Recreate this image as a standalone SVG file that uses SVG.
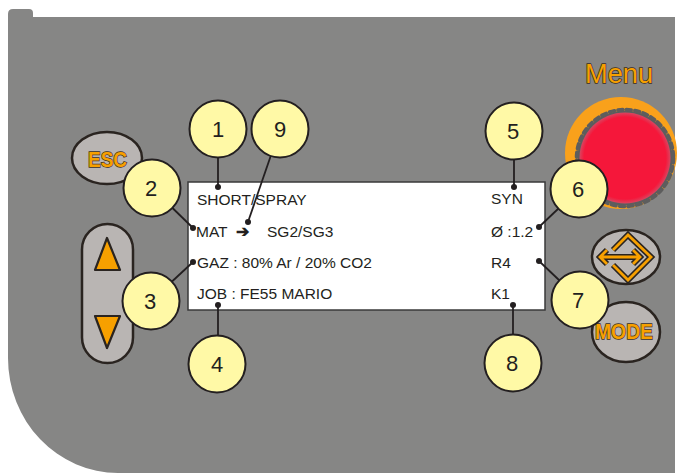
<svg xmlns="http://www.w3.org/2000/svg" width="683" height="473" viewBox="0 0 683 473">
  <style>
    .btn { fill: #b9b5b3; stroke: #2a2420; stroke-width: 2.5; }
    .glyph { fill: #f7a000; stroke: #2a2420; stroke-width: 2.2; stroke-linejoin: round; }
    .label { font-family: "Liberation Sans", Arial, sans-serif; fill: #f7a000; stroke: #3a2e22; stroke-width: 1.4; paint-order: stroke; }
    .lcd { font-family: "Liberation Sans", Arial, sans-serif; font-size: 15.5px; fill: #231f20; }
    .callout circle { fill: #fff9a6; stroke: #231f20; stroke-width: 2; }
    .callout text { font-family: "Liberation Sans", Arial, sans-serif; font-size: 22px; fill: #231f20; text-anchor: middle; }
    .lead { stroke: #231f20; stroke-width: 1.8; fill: none; }
    .dot { fill: #231f20; }
  </style>
  <defs>
    <radialGradient id="knobRed" cx="50%" cy="50%" r="50%">
      <stop offset="0.9" stop-color="#f5173a"/>
      <stop offset="1" stop-color="#d94560"/>
    </radialGradient>
  </defs>

  <rect width="683" height="473" fill="#ffffff"/>

  <!-- front panel -->
  <path id="panel" d="M8,14 Q8,9 13,9 L29,9 Q33,9 33,13 L33,17 L675,17 L675,473 L118,473 A110,115 0 0 1 8,358 Z" fill="#868685"/>

  <!-- ESC button -->
  <g id="btn-esc">
    <ellipse class="btn" cx="107" cy="158" rx="35" ry="26"/>
    <text class="label" x="88" y="167" font-size="22" style="font-weight:bold" textLength="39" lengthAdjust="spacingAndGlyphs">ESC</text>
  </g>

  <!-- up / down buttons -->
  <g id="btn-updown">
    <rect class="btn" x="82" y="224" width="51" height="139" rx="25.5"/>
    <polygon class="glyph" points="107,238 120,270 95,270"/>
    <polygon class="glyph" points="95,316 120,316 107,348"/>
  </g>

  <!-- menu knob -->
  <g id="knob-menu">
    <text class="label" x="585" y="83" font-size="28" textLength="68" lengthAdjust="spacingAndGlyphs">Menu</text>
    <circle cx="621" cy="153" r="56" fill="#f9a11b"/>
    <circle cx="625" cy="158" r="47.5" fill="#5d5d5d"/>
    <circle cx="625" cy="158" r="48.5" fill="none" stroke="#5d5d5d" stroke-width="3.5" stroke-dasharray="5 3.5" stroke-linecap="round"/>
    <circle cx="625" cy="158" r="45.5" fill="url(#knobRed)"/>
  </g>

  <!-- enter / navigation button -->
  <g id="btn-nav">
    <ellipse class="btn" cx="626" cy="257" rx="34" ry="27"/>
    <g fill="none" stroke-linejoin="miter" stroke-linecap="butt">
      <g stroke="#2a2420" stroke-width="6">
        <path d="M613,250 L628,235 L651,257 L628,280 L613,265"/>
        <path d="M600,257 L640,257 M607,250 L600,257 L607,264 M633,250 L640,257 L633,264"/>
      </g>
      <g stroke="#f7a000" stroke-width="2.8">
        <path d="M613,250 L628,235 L651,257 L628,280 L613,265"/>
        <path d="M600,257 L640,257 M607,250 L600,257 L607,264 M633,250 L640,257 L633,264"/>
      </g>
    </g>
  </g>

  <!-- MODE button -->
  <g id="btn-mode">
    <ellipse class="btn" cx="626" cy="332" rx="34" ry="30"/>
    <text class="label" x="595" y="339" font-size="22" style="font-weight:bold" textLength="58" lengthAdjust="spacingAndGlyphs">MODE</text>
  </g>

  <!-- display -->
  <g id="display">
    <rect x="188" y="182" width="357" height="128" fill="#ffffff" stroke="#3a3a3a" stroke-width="1.5"/>
    <text class="lcd" x="197" y="205">SHORT/SPRAY</text>
    <text class="lcd" x="196" y="237">MAT</text>
    <text class="lcd" x="236" y="237" style="font-weight:bold">➔</text>
    <text class="lcd" x="267" y="237">SG2/SG3</text>
    <text class="lcd" x="197" y="268">GAZ : 80% Ar / 20% CO2</text>
    <text class="lcd" x="197" y="299">JOB : FE55 MARIO</text>
    <text class="lcd" x="491" y="204">SYN</text>
    <text class="lcd" x="491" y="237">Ø :1.2</text>
    <text class="lcd" x="491" y="268">R4</text>
    <text class="lcd" x="491" y="299">K1</text>
  </g>

  <!-- leader lines -->
  <g id="connectors">
    <line class="lead" x1="218" y1="129" x2="218" y2="187"/>
    <circle class="dot" cx="218" cy="187" r="3"/>
    <line class="lead" x1="280" y1="129" x2="248" y2="222"/>
    <circle class="dot" cx="248" cy="222" r="3"/>
    <line class="lead" x1="152" y1="188" x2="193" y2="228"/>
    <circle class="dot" cx="193" cy="228" r="3"/>
    <line class="lead" x1="151" y1="301" x2="193" y2="262"/>
    <circle class="dot" cx="193" cy="262" r="3"/>
    <line class="lead" x1="218" y1="364" x2="218" y2="305"/>
    <circle class="dot" cx="218" cy="305" r="3"/>
    <line class="lead" x1="514" y1="131" x2="514" y2="187"/>
    <circle class="dot" cx="514" cy="187" r="3"/>
    <line class="lead" x1="579" y1="189" x2="539" y2="227"/>
    <circle class="dot" cx="539" cy="227" r="3"/>
    <line class="lead" x1="580" y1="300" x2="539" y2="261"/>
    <circle class="dot" cx="539" cy="261" r="3"/>
    <line class="lead" x1="513" y1="363" x2="513" y2="305"/>
    <circle class="dot" cx="513" cy="305" r="3"/>
  </g>

  <!-- numbered callouts -->
  <g id="callout-1" class="callout"><circle cx="218" cy="129" r="28.5"/><text x="218" y="137">1</text></g>
  <g id="callout-9" class="callout"><circle cx="280" cy="129" r="28.5"/><text x="280" y="137">9</text></g>
  <g id="callout-2" class="callout"><circle cx="152" cy="188" r="28.5"/><text x="151" y="196">2</text></g>
  <g id="callout-3" class="callout"><circle cx="151" cy="301" r="28.5"/><text x="150" y="309">3</text></g>
  <g id="callout-4" class="callout"><circle cx="217" cy="364" r="28.5"/><text x="217" y="372">4</text></g>
  <g id="callout-5" class="callout"><circle cx="514" cy="131" r="28.5"/><text x="513" y="139">5</text></g>
  <g id="callout-6" class="callout"><circle cx="579" cy="189" r="28.5"/><text x="578" y="197">6</text></g>
  <g id="callout-7" class="callout"><circle cx="580" cy="300" r="28.5"/><text x="578" y="308">7</text></g>
  <g id="callout-8" class="callout"><circle cx="513" cy="363" r="28.5"/><text x="512" y="371">8</text></g>
</svg>
